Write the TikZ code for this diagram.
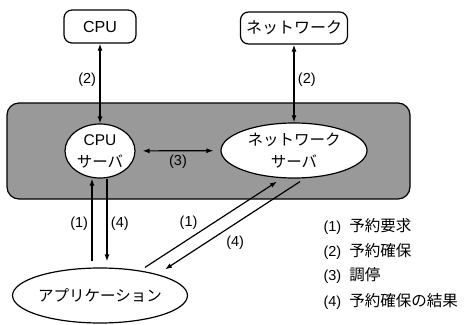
\documentclass[tikz,border=0pt]{standalone}
\usepackage{fontspec}
\setmainfont{Liberation Sans}
\newfontfamily\jp{Noto Sans CJK JP}
\usetikzlibrary{arrows.meta,shapes.geometric}

\begin{document}
\begin{tikzpicture}[x=1pt,y=-1pt,
  >={Latex[length=7pt,width=5pt]},
  every node/.style={font=\fontsize{14.5}{16}\selectfont},
  res/.style={draw,line width=1.2pt,rounded corners=8pt,inner sep=0pt,
    font=\fontsize{16}{18}\selectfont},
  srv/.style={draw,ellipse,fill=white,line width=1.2pt,inner sep=0pt,
    align=center,font=\fontsize{15.5}{22}\selectfont},
  conn/.style={line width=1.2pt}]
\useasboundingbox (0,0) rectangle (471,324);

%server area
\node[draw,line width=1.2pt,rounded corners=12pt,fill=black!40,
  minimum width=403pt,minimum height=96pt] (area) at (208.5,151) {};

%resources
\node[res,minimum width=72pt,minimum height=33pt] (cpu) at (100,26.5) {CPU};
\node[res,minimum width=107pt,minimum height=32pt] (net) at (294,28) {\jp ネットワーク};

%servers
\node[srv,minimum width=70pt,minimum height=54pt] (cpusrv) at (100,151) {CPU\\\jp サーバ};
\node[srv,minimum width=146pt,minimum height=55pt] (netsrv) at (294,150.5) {\jp ネットワーク\\\jp サーバ};

%application
\node[srv,minimum width=146pt,minimum height=55pt] (app) at (100,295.5) {\jp アプリケーション};

%(2)
\draw[conn,<->] (cpu) -- node[left,pos=0.45]{(2)} (cpusrv);
\draw[conn,<->] (net) -- node[right,pos=0.45]{(2)} (netsrv);

%(3)
\draw[conn,<->,shorten <=7pt,shorten >=7pt] (cpusrv) -- node[below]{(3)} (netsrv);

%(1),(4) cpu side
\draw[conn,->] ([xshift=-8pt,yshift=6pt]app.north) -- node[left,pos=0.45]{(1)} ([xshift=-8pt]cpusrv.south);
\draw[conn,->] ([xshift=7pt]cpusrv.south) -- node[right,pos=0.55]{(4)} ([xshift=7pt,yshift=6pt]app.north);

%(1),(4) network side
\draw[conn,->] ([xshift=45pt]app.north) -- node[pos=0.33,above=6pt]{(1)} ([xshift=-17pt,yshift=-3pt]netsrv.south);
\draw[conn,->] ([xshift=6pt,yshift=-3pt]netsrv.south) -- node[pos=0.48,below=8pt]{(4)} ([xshift=65pt,yshift=-2pt]app.north);

%key
\node[anchor=west] (key1) at (320,226) {(1)\hspace{8pt}{\jp\fontsize{15.5}{18}\selectfont 予約要求}};
\node[anchor=west] (key2) at (320,251) {(2)\hspace{8pt}{\jp\fontsize{15.5}{18}\selectfont 予約確保}};
\node[anchor=west] (key3) at (320,276) {(3)\hspace{8pt}{\jp\fontsize{15.5}{18}\selectfont 調停}};
\node[anchor=west] (key4) at (320,301) {(4)\hspace{8pt}{\jp\fontsize{15.5}{18}\selectfont 予約確保の結果}};
\end{tikzpicture}
\end{document}
